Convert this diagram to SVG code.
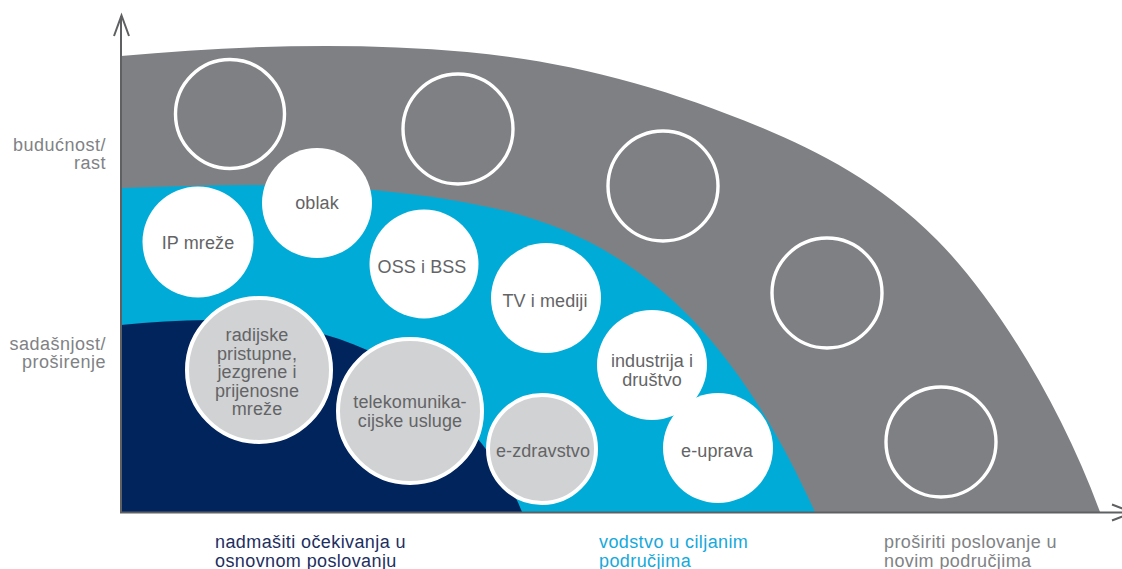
<svg xmlns="http://www.w3.org/2000/svg" width="1122" height="569" viewBox="0 0 1122 569">
<style>
  text { font-family: "Liberation Sans", Arial, sans-serif; }
  .ct { font-size: 18px; letter-spacing: 0.1px; fill: #636466; text-anchor: middle; }
  .ax { font-size: 18px; letter-spacing: 0.5px; fill: #808285; text-anchor: end; }
  .bl { font-size: 18px; letter-spacing: 0.4px; }
  .ring { fill: none; stroke: #ffffff; stroke-width: 3.4; }
  .wc { fill: #ffffff; }
  .gc { fill: #d1d2d4; stroke: #ffffff; stroke-width: 4; }
  .axis { stroke: #5f6062; stroke-width: 2; fill: none; }
</style>

<g id="bands">
  <path id="band-grey" fill="#7f8083" d="M121,56 C236,45.6 352,41.6 467,52 C565,60.8 662,85.8 760,127 C819,151.8 878,181 937,240 C992,295 1060,402 1100,512 L121,512 Z"/>
  <path id="band-blue" fill="#00acd7" d="M121,188 C245,183 369,180.7 493,208 C643,241 738,342 815,512 L121,512 Z"/>
  <path id="band-navy" fill="#02245c" d="M121,325 C201,317 287,314 367,350 C427,377 494,442 522,512 L121,512 Z"/>
</g>

<g id="empty-1"><circle class="ring" cx="230" cy="114" r="54.5"/></g>
<g id="empty-2"><circle class="ring" cx="458" cy="129" r="55"/></g>
<g id="empty-3"><circle class="ring" cx="663" cy="186" r="55"/></g>
<g id="empty-4"><circle class="ring" cx="827" cy="293" r="55"/></g>
<g id="empty-5"><circle class="ring" cx="941" cy="442" r="55"/></g>

<g id="node-ip">
  <circle class="wc" cx="198" cy="242" r="55.5"/>
  <text class="ct" x="198" y="249">IP mreže</text>
</g>
<g id="node-oblak">
  <circle class="wc" cx="317" cy="203" r="55"/>
  <text class="ct" x="317" y="209">oblak</text>
</g>
<g id="node-oss">
  <circle class="wc" cx="424" cy="264" r="54.5"/>
  <text class="ct" x="422" y="273">OSS i BSS</text>
</g>
<g id="node-tv">
  <circle class="wc" cx="546" cy="298" r="55"/>
  <text class="ct" x="545" y="307">TV i mediji</text>
</g>
<g id="node-industrija">
  <circle class="wc" cx="652" cy="365" r="55"/>
  <text class="ct" x="652" y="367">industrija i</text>
  <text class="ct" x="652" y="386">društvo</text>
</g>
<g id="node-euprava">
  <circle class="wc" cx="718" cy="448" r="55"/>
  <text class="ct" x="717" y="457">e-uprava</text>
</g>
<g id="node-radijske">
  <circle class="gc" cx="259" cy="370" r="72"/>
  <text class="ct" x="257" y="341">radijske</text>
  <text class="ct" x="257" y="359.5">pristupne,</text>
  <text class="ct" x="257" y="378">jezgrene i</text>
  <text class="ct" x="257" y="396.5">prijenosne</text>
  <text class="ct" x="257" y="415">mreže</text>
</g>
<g id="node-telekom">
  <circle class="gc" cx="410" cy="411" r="72"/>
  <text class="ct" x="410" y="408">telekomunika-</text>
  <text class="ct" x="410" y="427">cijske usluge</text>
</g>
<g id="node-ezdravstvo">
  <circle class="gc" cx="542" cy="449" r="54"/>
  <text class="ct" x="543" y="457">e-zdravstvo</text>
</g>

<g id="axes">
  <line class="axis" x1="121" y1="16" x2="121" y2="513"/>
  <polyline class="axis" points="114,36 121.5,15.5 129,36"/>
  <line class="axis" x1="120" y1="512.5" x2="1122" y2="512.5"/>
  <polyline class="axis" points="1112,504.5 1133,512.5 1112,520.5"/>
</g>

<g id="labels">
  <text class="ax" x="106" y="151">budućnost/</text>
  <text class="ax" x="106" y="169">rast</text>
  <text class="ax" x="106" y="350">sadašnjost/</text>
  <text class="ax" x="106" y="368">proširenje</text>
  <text class="bl" x="215" y="548" fill="#1d2f5f">nadmašiti očekivanja u</text>
  <text class="bl" x="215" y="567" fill="#1d2f5f">osnovnom poslovanju</text>
  <text class="bl" x="599" y="548" fill="#16a9db">vodstvo u ciljanim</text>
  <text class="bl" x="599" y="567" fill="#16a9db">područjima</text>
  <text class="bl" x="884" y="548" fill="#808285">proširiti poslovanje u</text>
  <text class="bl" x="884" y="567" fill="#808285">novim područjima</text>
</g>
</svg>
